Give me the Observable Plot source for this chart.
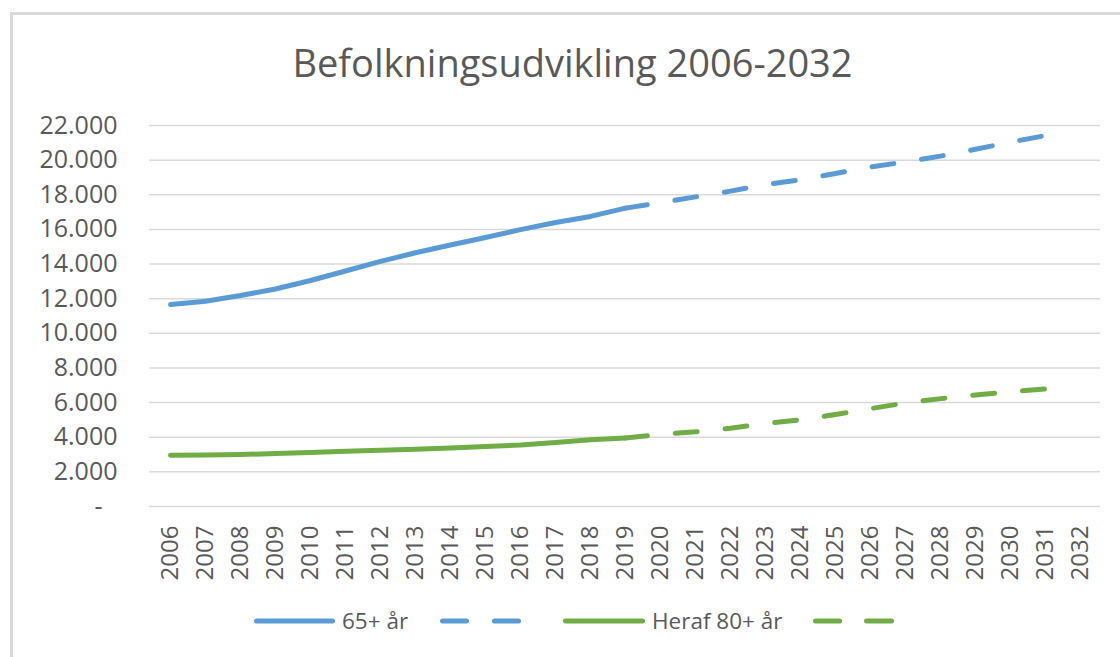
<!DOCTYPE html>
<html><head><meta charset="utf-8">
<script src="https://cdn.jsdelivr.net/npm/d3@7"></script>
<script src="https://cdn.jsdelivr.net/npm/@observablehq/plot@0.6"></script>
<style>
body{margin:0;background:#fff;font-family:"Open Sans",sans-serif;}
#wrap{position:relative;width:1120px;height:657px;overflow:hidden;background:#fff}
#frame{position:absolute;left:10px;top:12px;width:1200px;height:700px;border-left:3px solid #d9d9d9;border-top:3px solid #d9d9d9;}
#title{position:absolute;left:0;width:1145px;top:43px;line-height:38px;text-align:center;font-size:38px;color:#595959;white-space:nowrap}
#chart{position:absolute;left:0;top:0}
#legend{position:absolute;left:0;top:601px}
</style>
</head><body>
<div id="wrap">
  <div id="frame"></div>
  <div id="title">Befolkningsudvikling 2006-2032</div>
  <div id="chart"></div>
  <div id="legend"></div>
</div>
<script>
const years = d3.range(2006, 2033);
const yTicks = [0,2000,4000,6000,8000,10000,12000,14000,16000,18000,20000,22000];
const seriesNames = ["65+ år", "Heraf 80+ år"];
const seriesColors = ["#5B9BD5", "#70AD47"];
const lastActualYear = 2019;
// values 2006..2031
const pop65 = [11660, 11850, 12180, 12560, 13050, 13600, 14150, 14650, 15100, 15530, 15990, 16400, 16750, 17230, 17540, 17880, 18210, 18580, 18870, 19230, 19600, 19900, 20230, 20630, 21040, 21420];
const pop80 = [2960, 2970, 3000, 3060, 3120, 3190, 3250, 3300, 3380, 3460, 3550, 3700, 3850, 3950, 4170, 4310, 4520, 4790, 5000, 5310, 5650, 5980, 6230, 6440, 6630, 6790];

const fmt = d3.formatLocale({decimal:",", thousands:".", grouping:[3]}).format(",");
const rows = pop65.map((v,i)=>({year: years[i], p65: v, p80: pop80[i]}));
const hist = rows.filter(d=>d.year<=lastActualYear);
const proj = rows.filter(d=>d.year>=lastActualYear);
const dash = "22 28";

const chart = Plot.plot({
  width:1120, height:600,
  marginLeft:149, marginRight:20, marginTop:125, marginBottom:94,
  style:{fontFamily:"'Open Sans', sans-serif", color:"#595959", background:"transparent", overflow:"visible"},
  x:{type:"point", domain:years, padding:0.5, label:null},
  y:{domain:[0,22000], label:null},
  marks:[
    Plot.gridY(yTicks, {stroke:"#d9d9d9", strokeOpacity:1, strokeWidth:1.5}),
    Plot.axisY(yTicks.filter(v=>v>0), {tickSize:0, tickPadding:32, fontSize:25, tickFormat:fmt, label:null}),
    Plot.axisY([0], {tickSize:0, tickPadding:47, fontSize:25, tickFormat:()=>"-", label:null}),
    Plot.axisX(years, {tickSize:0, tickRotate:-90, tickPadding:19, fontSize:24, tickFormat:d=>String(d), label:null}),
    Plot.line(hist, {x:"year", y:"p65", stroke:seriesColors[0], strokeWidth:5, strokeLinecap:"round", strokeLinejoin:"round"}),
    Plot.line(proj, {x:"year", y:"p65", stroke:seriesColors[0], strokeWidth:5, strokeLinecap:"round", strokeLinejoin:"round", strokeDasharray:dash}),
    Plot.line(hist, {x:"year", y:"p80", stroke:seriesColors[1], strokeWidth:5, strokeLinecap:"round", strokeLinejoin:"round"}),
    Plot.line(proj, {x:"year", y:"p80", stroke:seriesColors[1], strokeWidth:5, strokeLinecap:"round", strokeLinejoin:"round", strokeDasharray:dash})
  ]
});
document.getElementById("chart").appendChild(chart);

// legend
const lg = d3.select("#legend").append("svg").attr("width",1120).attr("height",40)
  .style("font-family","'Open Sans', sans-serif");
const cy = 20;
const items = [
  {x0:254, solidEnd:335, textX:342, dashes:[[440,469],[492,521]]},
  {x0:563, solidEnd:645, textX:652, dashes:[[813,842],[864,894]]}
];
items.forEach((it,i)=>{
  lg.append("line").attr("x1",it.x0+2.5).attr("x2",it.solidEnd-2.5).attr("y1",cy).attr("y2",cy)
    .attr("stroke",seriesColors[i]).attr("stroke-width",5).attr("stroke-linecap","round");
  lg.append("text").attr("x",it.textX).attr("y",cy).attr("dy","0.35em")
    .attr("font-size",22.5).attr("fill","#595959").text(seriesNames[i]);
  it.dashes.forEach(([a,b])=>{
    lg.append("line").attr("x1",a+2.5).attr("x2",b-2.5).attr("y1",cy).attr("y2",cy)
      .attr("stroke",seriesColors[i]).attr("stroke-width",5).attr("stroke-linecap","round");
  });
});
</script>
</body></html>
